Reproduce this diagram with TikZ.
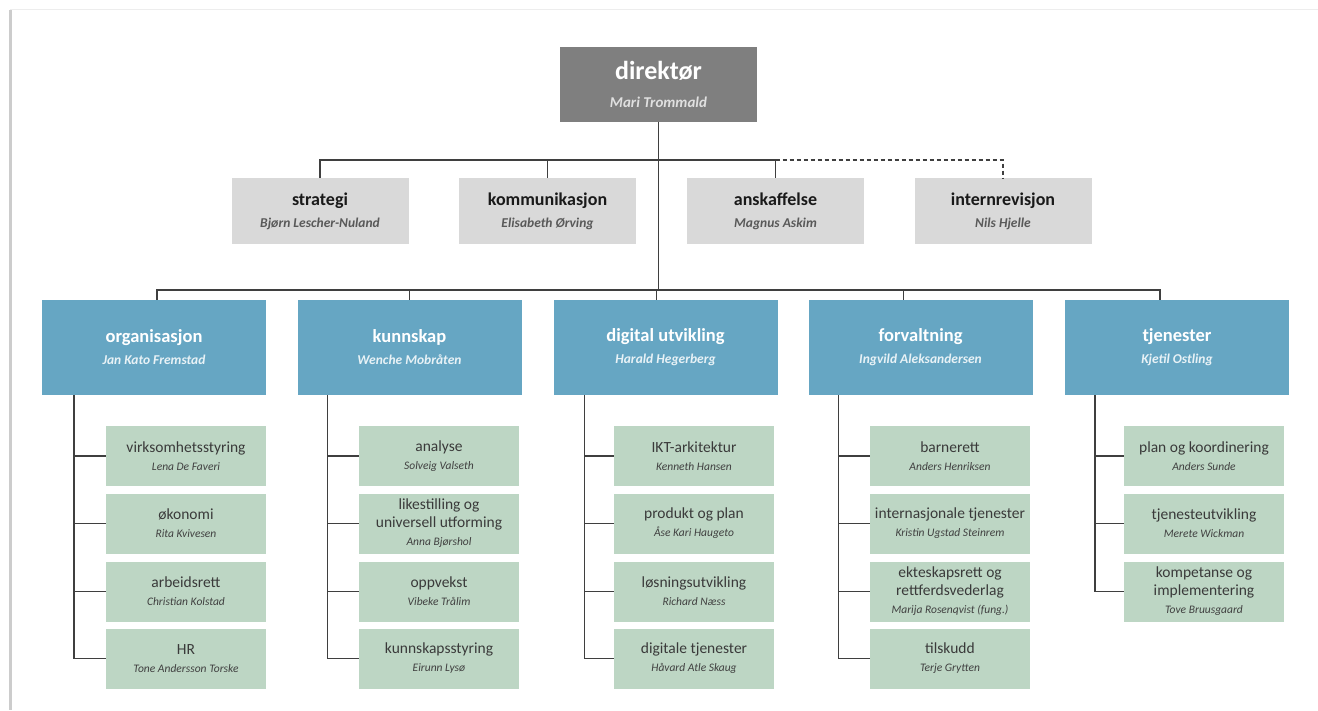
\documentclass[tikz,border=0pt]{standalone}
\usepackage{fontspec}
\setmainfont{Carlito}
\usetikzlibrary{calc}

\definecolor{dirgray}{HTML}{7F7F7F}
\definecolor{staffgray}{HTML}{D9D9D9}
\definecolor{deptblue}{HTML}{66A6C3}
\definecolor{subgreen}{HTML}{BDD6C4}
\definecolor{linegray}{HTML}{3F3F3F}
\definecolor{textdark}{HTML}{3A3A3A}

\newcommand{\dirname}[1]{{\fontsize{15}{18}\selectfont\itshape\color{black!12}#1}}
\newcommand{\staffname}[1]{{\fontsize{13.5}{16}\selectfont\itshape\color{black!65}#1}}
\newcommand{\deptname}[1]{{\fontsize{13.5}{16}\selectfont\itshape\color{white!85!deptblue}#1}}
\newcommand{\subname}[1]{{\fontsize{11.5}{14}\selectfont\itshape\color{black!75}#1}}

\tikzset{
  dirbox/.style={fill=dirgray, minimum width=197pt, minimum height=75pt, inner sep=0pt,
    align=center, text=white, font=\fontsize{26}{30}\selectfont\bfseries},
  staffbox/.style={fill=staffgray, minimum width=177pt, minimum height=66pt, inner sep=0pt,
    align=center, text=black!90, font=\fontsize{18}{21}\selectfont\bfseries},
  deptbox/.style={fill=deptblue, minimum width=224pt, minimum height=95pt, inner sep=0pt,
    align=center, text=white, font=\fontsize{18.5}{22}\selectfont\bfseries},
  subbox/.style={fill=subgreen, minimum width=160pt, minimum height=60pt, inner sep=0pt,
    align=center, text=textdark, font=\fontsize{15.5}{18}\selectfont},
  conn/.style={draw=linegray, line width=1.5pt},
  dashconn/.style={draw=linegray, line width=1.3pt, dash pattern=on 4pt off 3pt}
}

\begin{document}
\begin{tikzpicture}[x=1pt, y=-1pt]
    \useasboundingbox (0,0) rectangle (1318,710);
    % page edge
    \draw[black!7, line width=1pt] (10,9) -- (1318,9);
    \draw[black!20, line width=3pt] (10.5,10) -- (10.5,710);

    \def\staffy{211}
    \def\depty{347.5}
    \def\suba{456}
    \def\subb{523.5}
    \def\subc{591.5}
    \def\subd{658.5}

    % top
    \node[dirbox] (dir) at (658.5, 84) {direktør\\[-2pt]\dirname{Mari Trommald}};

    % staff
    \node[staffbox] (strat) at (320, \staffy) {strategi\\[1pt]\staffname{Bjørn Lescher-Nuland}};
    \node[staffbox] (komm) at (547.5, \staffy) {kommunikasjon\\[1pt]\staffname{Elisabeth Ørving}};
    \node[staffbox] (ansk) at (775.5, \staffy) {anskaffelse\\[1pt]\staffname{Magnus Askim}};
    \node[staffbox] (intrev) at (1003, \staffy) {internrevisjon\\[1pt]\staffname{Nils Hjelle}};

    % departments
    \node[deptbox] (org) at (154, \depty) {organisasjon\\\deptname{Jan Kato Fremstad}};
    \node[deptbox] (kunn) at (409.5, \depty) {kunnskap\\\deptname{Wenche Mobråten}};
    \node[deptbox] (digi) at (665.5, \depty) {digital utvikling\\\deptname{Harald Hegerberg}};
    \node[deptbox] (forv) at (920.5, \depty) {forvaltning\\\deptname{Ingvild Aleksandersen}};
    \node[deptbox] (tjen) at (1177, \depty) {tjenester\\\deptname{Kjetil Ostling}};

    % organisasjon
    \node[subbox] (virk) at (186, \suba) {virksomhetsstyring\\\subname{Lena De Faveri}};
    \node[subbox] (okon) at (186, \subb) {økonomi\\\subname{Rita Kvivesen}};
    \node[subbox] (arbr) at (186, \subc) {arbeidsrett\\\subname{Christian Kolstad}};
    \node[subbox] (hr) at (186, \subd) {HR\\\subname{Tone Andersson Torske}};

    % kunnskap
    \node[subbox] (anal) at (439, \suba) {analyse\\\subname{Solveig Valseth}};
    \node[subbox] (like) at (439, \subb) {likestilling og\\universell utforming\\\subname{Anna Bjørshol}};
    \node[subbox] (oppv) at (439, \subc) {oppvekst\\\subname{Vibeke Trålim}};
    \node[subbox] (kstyr) at (439, \subd) {kunnskapsstyring\\\subname{Eirunn Lysø}};

    % digital utvikling
    \node[subbox] (ikt) at (694, \suba) {IKT-arkitektur\\\subname{Kenneth Hansen}};
    \node[subbox] (prod) at (694, \subb) {produkt og plan\\\subname{Åse Kari Haugeto}};
    \node[subbox] (losn) at (694, \subc) {løsningsutvikling\\\subname{Richard Næss}};
    \node[subbox] (dtjen) at (694, \subd) {digitale tjenester\\\subname{Håvard Atle Skaug}};

    % forvaltning
    \node[subbox] (barn) at (950, \suba) {barnerett\\\subname{Anders Henriksen}};
    \node[subbox] (inter) at (950, \subb) {internasjonale tjenester\\\subname{Kristin Ugstad Steinrem}};
    \node[subbox] (ekte) at (950, \subc) {ekteskapsrett og\\rettferdsvederlag\\\subname{Marija Rosenqvist (fung.)}};
    \node[subbox] (tilsk) at (950, \subd) {tilskudd\\\subname{Terje Grytten}};

    % tjenester
    \node[subbox] (plan) at (1204, \suba) {plan og koordinering\\\subname{Anders Sunde}};
    \node[subbox] (tutv) at (1204, \subb) {tjenesteutvikling\\\subname{Merete Wickman}};
    \node[subbox] (komp) at (1204, \subc) {kompetanse og\\implementering\\\subname{Tove Bruusgaard}};

    % lines
    \coordinate (bar) at (0, 160);
    \coordinate (deptbar) at (0, 290);
    \coordinate (orgtop) at ([xshift=3pt]org.north);
    \coordinate (digitop) at ([xshift=-9pt]digi.north);
    \coordinate (forvtop) at ([xshift=-17pt]forv.north);
    \coordinate (tjentop) at ([xshift=-17pt]tjen.north);

    \draw[conn] (dir.south) -- (dir.south |- deptbar);
    \draw[conn] (strat.north) |- (bar -| ansk.north) -- (ansk.north);
    \draw[conn] (komm.north) -- (komm.north |- bar);
    \draw[dashconn] (bar -| ansk.north) -| (intrev.north);

    \draw[conn] (orgtop) |- (deptbar -| tjentop) -- (tjentop);
    \draw[conn] (kunn.north) -- (kunn.north |- deptbar);
    \draw[conn] (digitop) -- (digitop |- deptbar);
    \draw[conn] (forvtop) -- (forvtop |- deptbar);

    \coordinate (orgv) at ([xshift=32pt]org.south west);
    \draw[conn] (orgv) |- (hr.west);
    \draw[conn] (virk.west) -- (virk.west -| orgv);
    \draw[conn] (okon.west) -- (okon.west -| orgv);
    \draw[conn] (arbr.west) -- (arbr.west -| orgv);

    \coordinate (kunnv) at ([xshift=30pt]kunn.south west);
    \draw[conn] (kunnv) |- (kstyr.west);
    \draw[conn] (anal.west) -- (anal.west -| kunnv);
    \draw[conn] (like.west) -- (like.west -| kunnv);
    \draw[conn] (oppv.west) -- (oppv.west -| kunnv);

    \coordinate (digiv) at ([xshift=31pt]digi.south west);
    \draw[conn] (digiv) |- (dtjen.west);
    \draw[conn] (ikt.west) -- (ikt.west -| digiv);
    \draw[conn] (prod.west) -- (prod.west -| digiv);
    \draw[conn] (losn.west) -- (losn.west -| digiv);

    \coordinate (forvv) at ([xshift=30pt]forv.south west);
    \draw[conn] (forvv) |- (tilsk.west);
    \draw[conn] (barn.west) -- (barn.west -| forvv);
    \draw[conn] (inter.west) -- (inter.west -| forvv);
    \draw[conn] (ekte.west) -- (ekte.west -| forvv);

    \coordinate (tjenv) at ([xshift=30pt]tjen.south west);
    \draw[conn] (tjenv) |- (komp.west);
    \draw[conn] (plan.west) -- (plan.west -| tjenv);
    \draw[conn] (tutv.west) -- (tutv.west -| tjenv);
\end{tikzpicture}
\end{document}
